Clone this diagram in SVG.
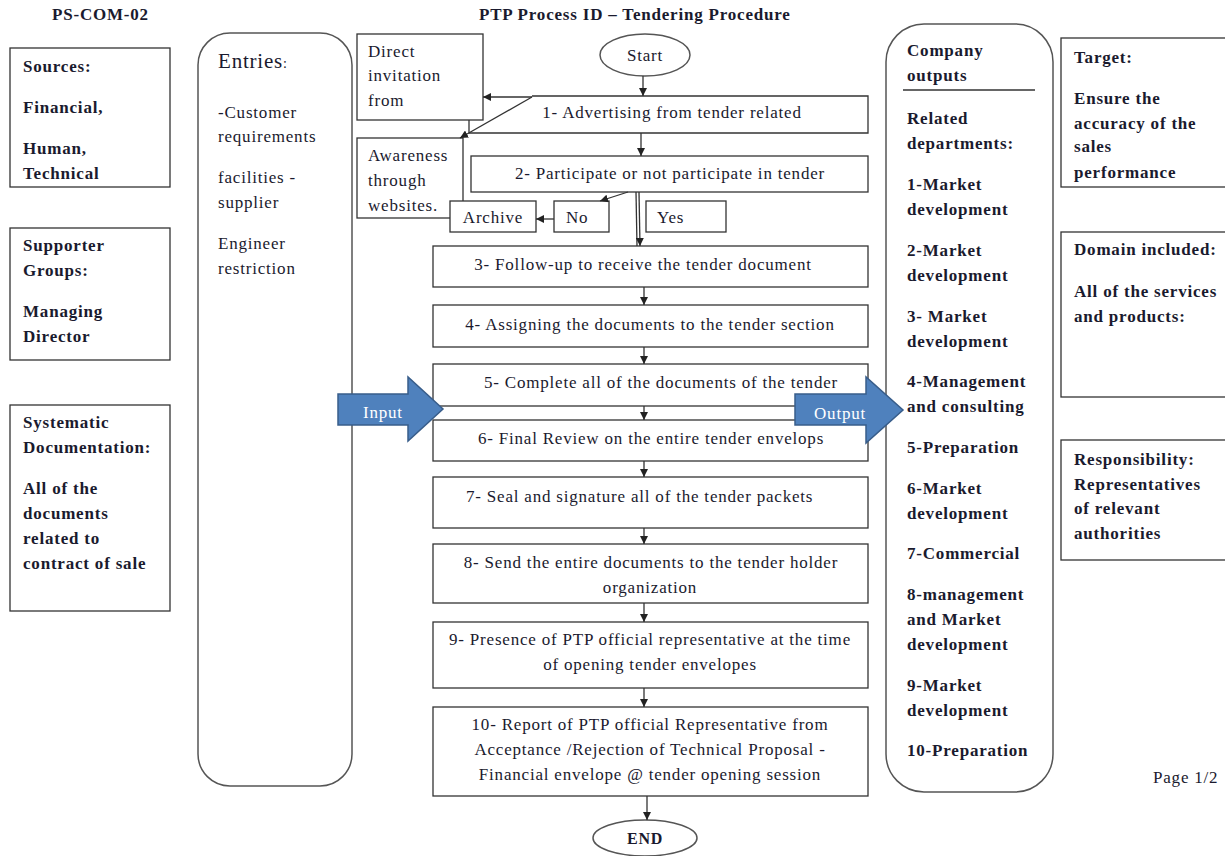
<svg xmlns="http://www.w3.org/2000/svg" width="1225" height="856" viewBox="0 0 1225 856">
<style>
text{font-family:"Liberation Serif","Times New Roman",serif;font-size:17px;letter-spacing:0.8px;fill:#1a1a2e}
.b{font-weight:bold}
.c{text-anchor:middle}
.box{fill:#fff;stroke:#333;stroke-width:1.3}
.rr{fill:#fff;stroke:#555;stroke-width:1.5}
.ln{fill:none;stroke:#333;stroke-width:1.3}
.blk{fill:#4f81bd;stroke:#385d8a;stroke-width:1.5}
.w{fill:#fff}
</style>
<defs>
<marker id="ah" markerUnits="userSpaceOnUse" markerWidth="8" markerHeight="8" refX="8" refY="4" orient="auto">
<path d="M0,0 L8,4 L0,8 z" fill="#222"/>
</marker>
<clipPath id="cin"><rect x="338" y="394" width="70" height="30"/></clipPath>
</defs>

<g id="header">
<text class="b" x="52" y="20">PS-COM-02</text>
<text class="b" x="479" y="20">PTP Process ID – Tendering Procedure</text>
</g>

<g id="sources">
<rect class="box" x="10" y="48" width="160" height="139"/>
<text class="b" x="23" y="72">Sources:</text>
<text class="b" x="23" y="113">Financial,</text>
<text class="b" x="23" y="154">Human,</text>
<text class="b" x="23" y="179">Technical</text>
</g>
<g id="supporter">
<rect class="box" x="10" y="228" width="160" height="132"/>
<text class="b" x="23" y="251">Supporter</text>
<text class="b" x="23" y="276">Groups:</text>
<text class="b" x="23" y="317">Managing</text>
<text class="b" x="23" y="342">Director</text>
</g>
<g id="systematic">
<rect class="box" x="10" y="405" width="160" height="206"/>
<text class="b" x="23" y="428">Systematic</text>
<text class="b" x="23" y="453">Documentation:</text>
<text class="b" x="23" y="494">All of the</text>
<text class="b" x="23" y="519">documents</text>
<text class="b" x="23" y="544">related to</text>
<text class="b" x="23" y="569">contract of sale</text>
</g>

<g id="entries">
<rect class="rr" x="198" y="33" width="154" height="753" rx="32" ry="32"/>
<text x="218" y="68" style="font-size:21px">Entries<tspan style="font-size:14px">:</tspan></text>
<text x="218" y="118">-Customer</text>
<text x="218" y="142">requirements</text>
<text x="218" y="183">facilities -</text>
<text x="218" y="208">supplier</text>
<text x="218" y="249">Engineer</text>
<text x="218" y="274">restriction</text>
</g>

<g id="outputs">
<rect class="rr" x="886" y="24" width="167" height="768" rx="38" ry="38"/>
<text class="b" x="907" y="56">Company</text>
<text class="b" x="907" y="81">outputs</text>
<line x1="903" y1="90" x2="1035" y2="90" stroke="#333" stroke-width="1.3"/>
<text class="b" x="907" y="124">Related</text>
<text class="b" x="907" y="149">departments:</text>
<text class="b" x="907" y="190">1-Market</text>
<text class="b" x="907" y="215">development</text>
<text class="b" x="907" y="256">2-Market</text>
<text class="b" x="907" y="281">development</text>
<text class="b" x="907" y="322">3- Market</text>
<text class="b" x="907" y="347">development</text>
<text class="b" x="907" y="387">4-Management</text>
<text class="b" x="907" y="412">and consulting</text>
<text class="b" x="907" y="453">5-Preparation</text>
<text class="b" x="907" y="494">6-Market</text>
<text class="b" x="907" y="519">development</text>
<text class="b" x="907" y="559">7-Commercial</text>
<text class="b" x="907" y="600">8-management</text>
<text class="b" x="907" y="625">and Market</text>
<text class="b" x="907" y="650">development</text>
<text class="b" x="907" y="691">9-Market</text>
<text class="b" x="907" y="716">development</text>
<text class="b" x="907" y="756">10-Preparation</text>
</g>

<g id="target">
<rect class="box" x="1061" y="38" width="170" height="149"/>
<text class="b" x="1074" y="63">Target:</text>
<text class="b" x="1074" y="104">Ensure the</text>
<text class="b" x="1074" y="129">accuracy of the</text>
<text class="b" x="1074" y="152">sales</text>
<text class="b" x="1074" y="178">performance</text>
</g>
<g id="domain">
<rect class="box" x="1061" y="232" width="170" height="165"/>
<text class="b" x="1074" y="255">Domain included:</text>
<text class="b" x="1074" y="297">All of the services</text>
<text class="b" x="1074" y="322">and products:</text>
</g>
<g id="responsibility">
<rect class="box" x="1061" y="440" width="170" height="120"/>
<text class="b" x="1074" y="465">Responsibility:</text>
<text class="b" x="1074" y="490">Representatives</text>
<text class="b" x="1074" y="514">of relevant</text>
<text class="b" x="1074" y="539">authorities</text>
</g>

<g id="start">
<ellipse cx="645" cy="55" rx="45" ry="21" fill="#fff" stroke="#555" stroke-width="1.5"/>
<text class="c" x="645" y="61">Start</text>
</g>

<g id="step1">
<path class="ln" d="M532,96 H868 V133 H469 V120" fill="#fff"/>
<text class="c" x="672" y="118">1-   Advertising from tender related</text>
</g>
<g id="direct">
<rect class="box" x="357" y="34" width="126" height="86"/>
<text x="368" y="57">Direct</text>
<text x="368" y="81">invitation</text>
<text x="368" y="106">from</text>
</g>
<g id="awareness">
<rect class="box" x="357" y="138" width="106" height="80"/>
<text x="368" y="161">Awareness</text>
<text x="368" y="186">through</text>
<text x="368" y="211">websites.</text>
</g>
<g id="step2">
<rect class="box" x="471" y="156" width="397" height="36"/>
<text class="c" x="670" y="179">2- Participate or not participate in tender</text>
</g>
<g id="archive">
<rect class="box" x="450" y="201" width="86" height="31"/>
<text class="c" x="493" y="223">Archive</text>
</g>
<g id="no">
<rect class="box" x="554" y="201" width="55" height="31"/>
<text x="566" y="223">No</text>
</g>
<g id="yes">
<rect class="box" x="646" y="201" width="80" height="31"/>
<text x="657" y="223">Yes</text>
</g>
<g id="step3">
<rect class="box" x="433" y="246" width="435" height="41"/>
<text class="c" x="643" y="270">3- Follow-up to receive the tender document</text>
</g>
<g id="step4">
<rect class="box" x="433" y="305" width="435" height="42"/>
<text class="c" x="650" y="330">4- Assigning the documents to the tender section</text>
</g>
<g id="step5">
<rect class="box" x="433" y="364" width="435" height="42"/>
<text class="c" x="661" y="388">5- Complete all of the documents of the tender</text>
</g>
<g id="step6">
<rect class="box" x="433" y="420" width="435" height="41"/>
<text class="c" x="651" y="444">6- Final Review on the entire tender envelops</text>
</g>
<g id="step7">
<rect class="box" x="433" y="477" width="435" height="51"/>
<text x="466" y="502">7- Seal and signature all of the tender packets</text>
</g>
<g id="step8">
<rect class="box" x="433" y="544" width="435" height="59"/>
<text class="c" x="651" y="568">8- Send the entire documents to the tender holder</text>
<text class="c" x="650" y="593">organization</text>
</g>
<g id="step9">
<rect class="box" x="433" y="622" width="435" height="66"/>
<text class="c" x="650" y="645">9- Presence of PTP official representative at the time</text>
<text class="c" x="650" y="670">of opening tender envelopes</text>
</g>
<g id="step10">
<rect class="box" x="433" y="707" width="435" height="89"/>
<text class="c" x="650" y="730">10- Report of PTP official Representative from</text>
<text class="c" x="650" y="755">Acceptance /Rejection of Technical Proposal -</text>
<text class="c" x="650" y="780">Financial envelope @ tender opening session</text>
</g>
<g id="end">
<ellipse cx="645" cy="838" rx="52" ry="18" fill="#fff" stroke="#555" stroke-width="1.5"/>
<text class="c b" x="645" y="844" style="font-size:16px">END</text>
</g>

<g id="connectors">
<line class="ln" x1="643" y1="76" x2="643" y2="96" marker-end="url(#ah)"/>
<line class="ln" x1="532" y1="97" x2="483" y2="97" marker-end="url(#ah)"/>
<line class="ln" x1="532" y1="97" x2="460" y2="138" marker-end="url(#ah)"/>
<line class="ln" x1="641" y1="133" x2="641" y2="156" marker-end="url(#ah)"/>
<line class="ln" x1="628" y1="192" x2="600" y2="201" marker-end="url(#ah)"/>
<line class="ln" x1="554" y1="219" x2="536" y2="219" marker-end="url(#ah)"/>
<line class="ln" x1="636" y1="192" x2="637" y2="246"/>
<line class="ln" x1="639" y1="192" x2="640" y2="246" marker-end="url(#ah)"/>
<line class="ln" x1="644" y1="287" x2="644" y2="305" marker-end="url(#ah)"/>
<line class="ln" x1="644" y1="347" x2="644" y2="364" marker-end="url(#ah)"/>
<line class="ln" x1="644" y1="406" x2="644" y2="420" marker-end="url(#ah)"/>
<line class="ln" x1="644" y1="461" x2="644" y2="477" marker-end="url(#ah)"/>
<line class="ln" x1="644" y1="528" x2="644" y2="544" marker-end="url(#ah)"/>
<line class="ln" x1="644" y1="603" x2="644" y2="622" marker-end="url(#ah)"/>
<line class="ln" x1="644" y1="688" x2="644" y2="707" marker-end="url(#ah)"/>
<line class="ln" x1="647" y1="796" x2="647" y2="820" marker-end="url(#ah)"/>
</g>

<g id="input">
<polygon class="blk" points="338,394 408,394 408,377 443,409 408,441 408,425 338,425"/>
<text class="w" x="363" y="418" clip-path="url(#cin)">Input</text>
</g>
<g id="output">
<polygon class="blk" points="795,394 866,394 866,377 903,410 866,443 866,425 795,425"/>
<text class="w" x="814" y="419">Output</text>
</g>

<text x="1153" y="783">Page 1/2</text>
</svg>
